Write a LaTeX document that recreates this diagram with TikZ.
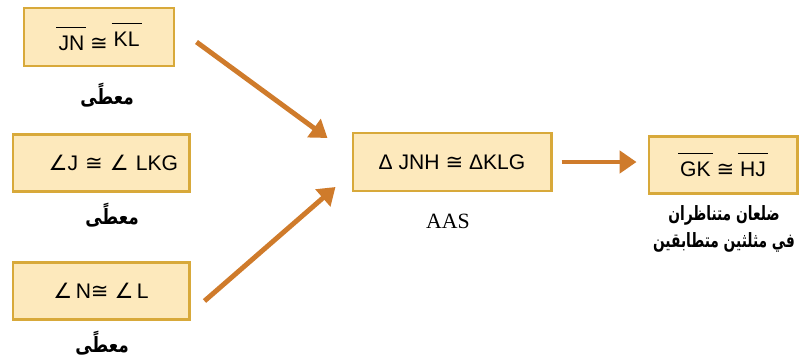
\documentclass[tikz,border=0pt]{standalone}
\usepackage{fontspec}
\setmainfont{Liberation Sans}
\newfontfamily\serif{Liberation Serif}
\newfontfamily\symb{DejaVu Sans}
\newfontfamily\arabicfont[Script=Arabic,FakeStretch=0.8]{DejaVu Sans Bold}
\newfontfamily\arabicnarrow[Script=Arabic,FakeStretch=0.7]{DejaVu Sans Bold}
\TeXXeTstate=1
\usetikzlibrary{calc}
\usetikzlibrary{arrows.meta}
\usepackage{xcolor}

\definecolor{boxfill}{HTML}{FDE9BC}
\definecolor{boxline}{HTML}{D8A93A}
\definecolor{arrowcol}{HTML}{CF7B2B}

% bar over a segment name
\newsavebox\segbox
\newcommand\seg[1]{\sbox\segbox{#1}\makebox[0pt][l]{\kern-1.5pt\raisebox{\dimexpr\ht\segbox+6pt\relax}{\rule{\dimexpr\wd\segbox+3pt\relax}{0.7pt}}}\usebox\segbox}
\newcommand\cng{{\symb ≅}}
\newcommand\ang{{\symb ∠}}

\tikzset{
  stmt/.style={draw=boxline, fill=boxfill, line width=2.1pt, inner sep=0pt,
    font=\fontsize{15}{18}\selectfont},
  reason/.style={font=\arabicfont\fontsize{15}{19}\selectfont, align=center},
  arr/.style={draw=arrowcol, line width=3.5pt, -{Triangle[length=0.42cm,width=0.55cm]}}
}

\begin{document}
\begin{tikzpicture}[x=0.025cm,y=-0.025cm]
\useasboundingbox (0,0) rectangle (800,362);

% the three givens
\node[stmt, minimum width=3.75cm, minimum height=1.45cm] (given1) at (99,37)
  {\seg{JN} \cng\ \raisebox{3pt}{\seg{KL}}};
\node[stmt, minimum width=4.4cm, minimum height=1.425cm, inner xsep=0.275cm,
  text width=3.85cm, align=right] (given2) at (101,163) {\ang J \cng\ \ang\ LKG};
\node[stmt, minimum width=4.4cm, minimum height=1.425cm] (given3) at (101,291)
  {\ang\,N\cng\ \ang\,L};
\node[reason] (why1) at (107,95) {\beginR معطًى\endR};
\node[reason] (why2) at (112,215) {\beginR معطًى\endR};
\node[reason] (why3) at (102,343) {\beginR معطًى\endR};

% congruent triangles
\node[stmt, minimum width=4.95cm, minimum height=1.45cm] (tri) at (452,162)
  {Δ JNH \cng\ ΔKLG};
\node[font=\serif\fontsize{15.5}{18}\selectfont] (aas) at (448,221) {AAS};

% conclusion
\node[stmt, minimum width=3.7cm, minimum height=1.425cm] (concl) at (723,165)
  {\seg{GK} \cng\ \seg{HJ}};
\node[reason, font=\arabicnarrow\fontsize{14}{19}\selectfont] (why4) at (724,229)
  {\beginR ضلعان متناظران\endR\\ \beginR في مثلثين متطابقين\endR};

\draw[arr] ($(given1.east)+(21,5)$) -- ($(tri.west)+(-24,-24)$);
\draw[arr] ($(given3.east)+(14,10)$) -- ($(tri.west)+(-16,25)$);
\draw[arr] ($(tri.east)+(9,0)$) -- ($(tri.east -| concl.west)+(-11,0)$);
\end{tikzpicture}
\end{document}
